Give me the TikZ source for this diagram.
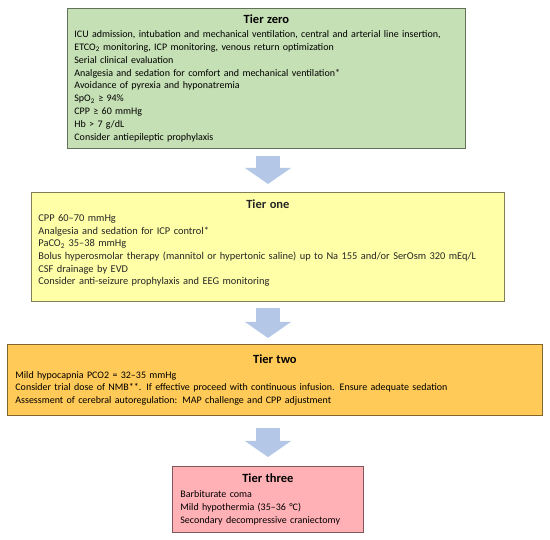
\documentclass[tikz,border=0pt]{standalone}
\usepackage{fontspec}
\setmainfont{Carlito}
\usetikzlibrary{arrows.meta}

\definecolor{zerogreen}{HTML}{C5E0B4}
\definecolor{oneyellow}{HTML}{FFFFA8}
\definecolor{twoorange}{HTML}{FFCA57}
\definecolor{threepink}{HTML}{FFB1B6}
\definecolor{arrowblue}{HTML}{B4C7E7}

\newcommand{\tierhead}[1]{\makebox[\linewidth][c]{\fontsize{12.5}{14}\selectfont\bfseries #1}}

\tikzset{
  tier/.style={fill=#1, draw=#1!50!black, line width=0.8pt, anchor=north west,
    inner xsep=7pt, inner ysep=0pt, align=left,
    font=\fontsize{10}{12.8}\selectfont},
  bigarrow/.style={draw=arrowblue, line width=24pt,
    -{Triangle[width=46pt,length=16pt,line width=0pt]}}
}

\begin{document}
\begin{tikzpicture}[x=1pt,y=-1pt]
\useasboundingbox (0,0) rectangle (550,540);

\node[tier=zerogreen, minimum width=398pt, minimum height=140pt, text width=384pt] (t0) at (67,8)
  {\tierhead{Tier zero}\\[1pt]
   ICU admission, intubation and mechanical ventilation, central and arterial line insertion,\\
   ETCO\textsubscript{2} monitoring, ICP monitoring, venous return optimization\\
   Serial clinical evaluation\\
   Analgesia and sedation for comfort and mechanical ventilation*\\
   Avoidance of pyrexia and hyponatremia\\
   SpO\textsubscript{2} ≥ 94\%\\
   CPP ≥ 60 mmHg\\
   Hb > 7 g/dL\\
   Consider antiepileptic prophylaxis};

\node[tier=oneyellow, text=black!85, font=\fontsize{10.4}{12.6}\selectfont,
  minimum width=473pt, minimum height=109pt, text width=459pt] (t1) at (31,192)
  {\tierhead{Tier one}\\[1pt]
   CPP 60–70 mmHg\\
   Analgesia and sedation for ICP control*\\
   PaCO\textsubscript{2} 35–38 mmHg\\
   Bolus hyperosmolar therapy (mannitol or hypertonic saline) up to Na 155 and/or SerOsm 320 mEq/L\\
   CSF drainage by EVD\\
   Consider anti-seizure prophylaxis and EEG monitoring\\[-3pt]\mbox{}};

\node[tier=twoorange, inner xsep=8pt, minimum width=535pt, minimum height=71pt, text width=519pt] (t2) at (7,344)
  {\tierhead{Tier two}\\[2pt]
   Mild hypocapnia PCO2 = 32–35 mmHg\\
   Consider trial dose of NMB**. If effective proceed with continuous infusion. Ensure adequate sedation\\
   Assessment of cerebral autoregulation: MAP challenge and CPP adjustment};

\node[tier=threepink, inner xsep=8pt, minimum width=191pt, minimum height=66pt, text width=175pt] (t3) at (172,466)
  {\tierhead{Tier three}\\[2pt]
   Barbiturate coma\\
   Mild hypothermia (35–36 °C)\\
   Secondary decompressive craniectomy};

% arrows between tiers
\coordinate (a1) at (268,156); \coordinate (b1) at (268,184);
\coordinate (a2) at (268,308); \coordinate (b2) at (268,338);
\coordinate (a3) at (268,428); \coordinate (b3) at (268,457);
\draw[bigarrow] (a1) -- (b1);
\draw[bigarrow] (a2) -- (b2);
\draw[bigarrow] (a3) -- (b3);
\end{tikzpicture}
\end{document}
